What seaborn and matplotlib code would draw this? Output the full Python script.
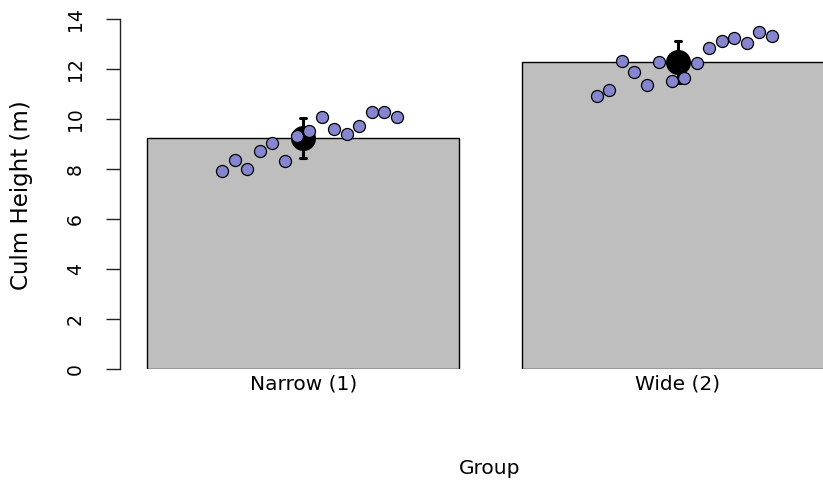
import numpy as np
import pandas as pd
import matplotlib
matplotlib.use("Agg")
import matplotlib.pyplot as plt
import seaborn as sns

groups = ["Narrow (1)", "Wide (2)"]
narrow_heights = [7.91, 8.36, 8.00, 8.72, 9.04, 8.32, 9.33, 9.53, 10.09, 9.61, 9.41, 9.72, 10.27, 10.29, 10.07]
wide_heights = [10.92, 11.15, 12.31, 11.89, 11.36, 12.29, 11.52, 11.63, 12.23, 12.85, 13.11, 13.23, 13.03, 13.47, 13.33]
y_ticks = [0, 2, 4, 6, 8, 10, 12, 14]

sns.set_style("white")
plt.rcParams["font.family"] = ["DejaVu Sans"]
plt.rcParams["text.color"] = "black"
plt.rcParams["axes.labelcolor"] = "black"
plt.rcParams["xtick.color"] = "black"
plt.rcParams["ytick.color"] = "black"

df = pd.DataFrame({
    "Group": [groups[0]] * len(narrow_heights) + [groups[1]] * len(wide_heights),
    "Height": narrow_heights + wide_heights,
})
df["Group"] = pd.Categorical(df["Group"], categories=groups, ordered=True)

# evenly spread x positions within each group (layout only)
offsets = []
for g, vals in zip(range(len(groups)), [narrow_heights, wide_heights]):
    offsets.extend(list(g + np.linspace(-0.216, 0.250, len(vals))))
df["xpos"] = offsets

W, H = 823, 483
fig = plt.figure(figsize=(W / 100, H / 100), dpi=100)
ax = fig.add_axes([119.5 / W, (H - 369) / H, 742 / W, 350 / H])

sns.barplot(data=df, x="Group", y="Height", order=groups, errorbar=None,
            width=1 / 1.2, color="#BEBEBE", edgecolor="black", linewidth=1.0,
            saturation=1, ax=ax)
sns.pointplot(data=df, x="Group", y="Height", order=groups, errorbar="sd",
              linestyle="none", color="black", markers="o", markersize=16,
              err_kws={"linewidth": 2.2}, capsize=0.016, ax=ax)
sns.scatterplot(data=df, x="xpos", y="Height", color="#8585D0", edgecolor="black",
                linewidth=0.9, s=75, zorder=5, ax=ax)

ax.set_xlim(-0.49, 1.49)
ax.set_ylim(0, 14)
ax.set_yticks(y_ticks)
ax.set_yticklabels([str(t) for t in y_ticks], rotation=90, va="center", fontsize=13.5, color="black")
ax.set_xticks([0, 1])
ax.set_xticklabels(groups, fontsize=14.5, color="black")
ax.tick_params(axis="x", length=0, pad=4)
ax.tick_params(axis="y", length=10, width=1, pad=15, color="#222222", direction="out", left=True)
for s in ["top", "right", "bottom"]:
    ax.spines[s].set_visible(False)
ax.spines["left"].set_bounds(0, 14)
ax.spines["left"].set_linewidth(1)
ax.spines["left"].set_color("#222222")

ax.set_ylabel("Culm Height (m)", fontsize=16.5, color="black")
ax.yaxis.set_label_coords(33 / W, 1 - 195 / H, transform=fig.transFigure)
ax.set_xlabel("Group", fontsize=14.5, color="black")
ax.xaxis.set_label_coords(490 / W, 1 - 459 / H, transform=fig.transFigure)

fig.savefig("out.png", dpi=100)
